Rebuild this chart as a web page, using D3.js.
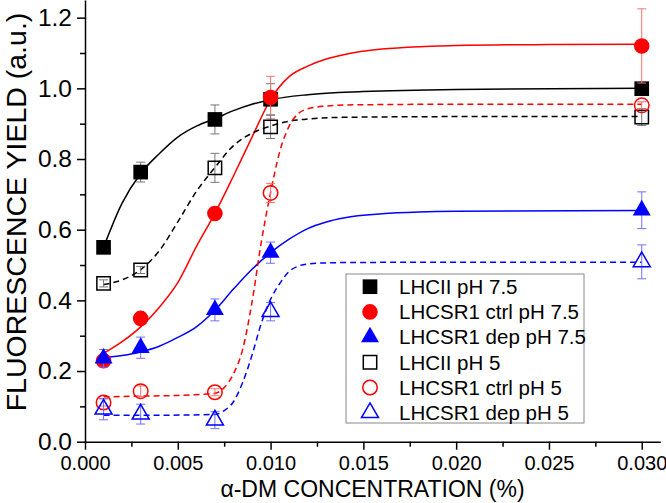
<!DOCTYPE html>
<html><head><meta charset="utf-8">
<script src="https://cdn.jsdelivr.net/npm/d3@7"></script>
<style>body{margin:0;background:#fff}svg{display:block;font-family:"Liberation Sans",Arial,sans-serif}</style>
</head><body><svg id="c" width="666" height="503"></svg>
<script>
// ---- data ----
const xVals = [0.001, 0.003, 0.007, 0.010, 0.030];
const seriesNames = ["LHCII pH 7.5","LHCSR1 ctrl pH 7.5","LHCSR1 dep pH 7.5","LHCII pH 5","LHCSR1 ctrl pH 5","LHCSR1 dep pH 5"];
const lhcii75 = [0.550, 0.763, 0.912, 0.969, 0.999];
const lhcii75Err = [0.010, 0.028, 0.041, 0.044, 0.010];
const ctrl75 = [0.229, 0.349, 0.646, 0.974, 1.120];
const ctrl75Err = [0.015, 0.015, 0.015, 0.060, 0.105];
const dep75 = [0.236, 0.266, 0.373, 0.535, 0.655];
const dep75Err = [0.025, 0.030, 0.031, 0.030, 0.052];
const lhcii5 = [0.448, 0.486, 0.775, 0.891, 0.919];
const lhcii5Err = [0.010, 0.010, 0.041, 0.033, 0.024];
const ctrl5 = [0.111, 0.143, 0.140, 0.704, 0.952];
const ctrl5Err = [0.010, 0.015, 0.010, 0.027, 0.010];
const dep5 = [0.092, 0.078, 0.061, 0.368, 0.509];
const dep5Err = [0.030, 0.028, 0.024, 0.026, 0.048];

// fitted curves
const fitLhcii75X = [0.001,0.002,0.003,0.004,0.005,0.006,0.007,0.008,0.009,0.010,0.012,0.015,0.020,0.030];
const fitLhcii75Y = [0.550,0.675,0.759,0.815,0.862,0.893,0.914,0.937,0.955,0.968,0.982,0.991,0.997,1.000];
const fitCtrl75X = [0.001,0.002,0.003,0.004,0.005,0.006,0.007,0.008,0.009,0.010,0.011,0.012,0.013,0.014,0.016,0.018,0.020,0.025,0.030];
const fitCtrl75Y = [0.250,0.283,0.325,0.380,0.450,0.552,0.646,0.752,0.862,0.969,1.033,1.063,1.083,1.096,1.111,1.118,1.121,1.124,1.125];
const fitDep75X = [0.001,0.002,0.003,0.004,0.005,0.006,0.007,0.008,0.009,0.010,0.011,0.012,0.013,0.014,0.016,0.018,0.020,0.030];
const fitDep75Y = [0.238,0.244,0.254,0.270,0.295,0.325,0.372,0.432,0.488,0.535,0.573,0.603,0.622,0.634,0.645,0.650,0.652,0.654];
const fitLhcii5X = [0.001,0.002,0.003,0.004,0.005,0.006,0.007,0.008,0.009,0.010,0.011,0.012,0.014,0.020,0.030];
const fitLhcii5Y = [0.445,0.458,0.487,0.540,0.622,0.708,0.776,0.838,0.873,0.893,0.907,0.913,0.918,0.920,0.920];
const fitCtrl5X = [0.001,0.003,0.005,0.007,0.0075,0.008,0.0085,0.009,0.0095,0.010,0.0105,0.011,0.0115,0.012,0.013,0.014,0.020,0.030];
const fitCtrl5Y = [0.127,0.129,0.131,0.137,0.153,0.192,0.262,0.395,0.565,0.705,0.822,0.893,0.929,0.942,0.950,0.953,0.955,0.955];
const fitDep5X = [0.001,0.004,0.007,0.0075,0.008,0.0085,0.009,0.0095,0.010,0.0105,0.011,0.0115,0.012,0.013,0.014,0.020,0.030];
const fitDep5Y = [0.075,0.075,0.077,0.088,0.113,0.168,0.245,0.335,0.403,0.448,0.482,0.497,0.503,0.506,0.507,0.508,0.508];

const xTicks = [0.000,0.005,0.010,0.015,0.020,0.025,0.030];
const yTicks = [0.0,0.2,0.4,0.6,0.8,1.0,1.2];

// ---- drawing ----
const svg = d3.select("#c");
const x = d3.scaleLinear().domain([0, 0.031]).range([85, 660.3]);
const y = d3.scaleLinear().domain([0, 1.25]).range([441.7, 0]);

const series = [
  {v: lhcii75, e: lhcii75Err, fx: fitLhcii75X, fy: fitLhcii75Y, col:"#000", ecol:"#777", sym:d3.symbolSquare, size:215, fill:true, dash:null},
  {v: ctrl75, e: ctrl75Err, fx: fitCtrl75X, fy: fitCtrl75Y, col:"#ff0000", ecol:"#ff7070", sym:d3.symbolCircle, size:190, fill:true, dash:null},
  {v: dep75, e: dep75Err, fx: fitDep75X, fy: fitDep75Y, col:"#0000ff", ecol:"#7070ff", sym:d3.symbolTriangle, size:140, fill:true, dash:null},
  {v: lhcii5, e: lhcii5Err, fx: fitLhcii5X, fy: fitLhcii5Y, col:"#000", ecol:"#777", sym:d3.symbolSquare, size:180, fill:false, dash:"6,4"},
  {v: ctrl5, e: ctrl5Err, fx: fitCtrl5X, fy: fitCtrl5Y, col:"#ff0000", ecol:"#ff7070", sym:d3.symbolCircle, size:165, fill:false, dash:"6,4"},
  {v: dep5, e: dep5Err, fx: fitDep5X, fy: fitDep5Y, col:"#0000ff", ecol:"#7070ff", sym:d3.symbolTriangle, size:125, fill:false, dash:"6,4"}
];

// axes
const xAxis = d3.axisBottom(x).tickValues(xTicks).tickFormat(d3.format(".3f")).tickSize(8).tickSizeOuter(0);
const xMinor = d3.axisBottom(x).tickValues(d3.range(0.0025, 0.031, 0.005)).tickFormat("").tickSize(5).tickSizeOuter(0);
const yAxis = d3.axisLeft(y).tickValues(yTicks).tickFormat(d3.format(".1f")).tickSize(8).tickSizeOuter(0);
const yMinor = d3.axisLeft(y).tickValues(d3.range(0.1, 1.25, 0.2)).tickFormat("").tickSize(5).tickSizeOuter(0);

const gx = svg.append("g").attr("transform", `translate(0,${y(0)})`).call(xAxis);
svg.append("g").attr("transform", `translate(0,${y(0)})`).call(xMinor).select(".domain").remove();
const gy = svg.append("g").attr("transform", `translate(${x(0)},0)`).call(yAxis);
svg.append("g").attr("transform", `translate(${x(0)},0)`).call(yMinor).select(".domain").remove();
svg.selectAll(".domain, .tick line").attr("stroke", "#000").attr("stroke-width", 1.5);
gx.selectAll(".tick text").attr("font-size", 20).attr("font-family", "Liberation Sans, Arial").attr("fill","#000").attr("dy", "0.72em").attr("y", 13.5);
gy.selectAll(".tick text").attr("font-size", 24.5).attr("font-family", "Liberation Sans, Arial").attr("fill","#000").attr("x", -13);

// axis titles
svg.append("text").attr("x", 372.5).attr("y", 497).attr("text-anchor","middle")
  .attr("font-size", 23).text("α-DM CONCENTRATION (%)");
svg.append("text").attr("transform","translate(26,212) rotate(-90)").attr("text-anchor","middle")
  .attr("font-size", 28.5).text("FLUORESCENCE YIELD (a.u.)");

// fit curves
const line = d3.line().x(d => x(d[0])).y(d => y(d[1])).curve(d3.curveMonotoneX);
series.forEach(s => {
  svg.append("path").datum(s.fx.map((xx,i)=>[xx, s.fy[i]]))
    .attr("d", line).attr("fill","none").attr("stroke", s.col).attr("stroke-width", 1.5)
    .attr("stroke-dasharray", s.dash);
});

// error bars and markers
series.forEach(s => {
  const g = svg.append("g");
  xVals.forEach((xx,i) => {
    const cx = x(xx), lo = y(s.v[i]-s.e[i]), hi = y(s.v[i]+s.e[i]);
    g.append("line").attr("x1",cx).attr("x2",cx).attr("y1",lo).attr("y2",hi).attr("stroke",s.ecol).attr("stroke-width",1);
    [lo,hi].forEach(yy => g.append("line").attr("x1",cx-4.5).attr("x2",cx+4.5).attr("y1",yy).attr("y2",yy).attr("stroke",s.ecol).attr("stroke-width",1));
  });
  g.selectAll("path.m").data(xVals).join("path").attr("class","m")
    .attr("transform",(d,i)=>`translate(${x(d)},${y(s.v[i])})`)
    .attr("d", d3.symbol().type(s.sym).size(s.size))
    .attr("fill", s.fill ? s.col : "none")
    .attr("stroke", s.col).attr("stroke-width", s.fill ? 0 : 1.5);
});

// legend
const lg = svg.append("g");
lg.append("rect").attr("x",346).attr("y",274).attr("width",238).attr("height",149)
  .attr("fill","#fff").attr("stroke","#888").attr("stroke-width",1);
series.forEach((s,i) => {
  const cy = 286.7 + i*25.2;
  lg.append("path").attr("transform",`translate(370,${cy})`)
    .attr("d", d3.symbol().type(s.sym).size(s.size))
    .attr("fill", s.fill ? s.col : "none").attr("stroke", s.col).attr("stroke-width", s.fill?0:1.5);
  lg.append("text").attr("x",399).attr("y",cy+7.3).attr("font-size",20.5).text(seriesNames[i]);
});
</script></body></html>
